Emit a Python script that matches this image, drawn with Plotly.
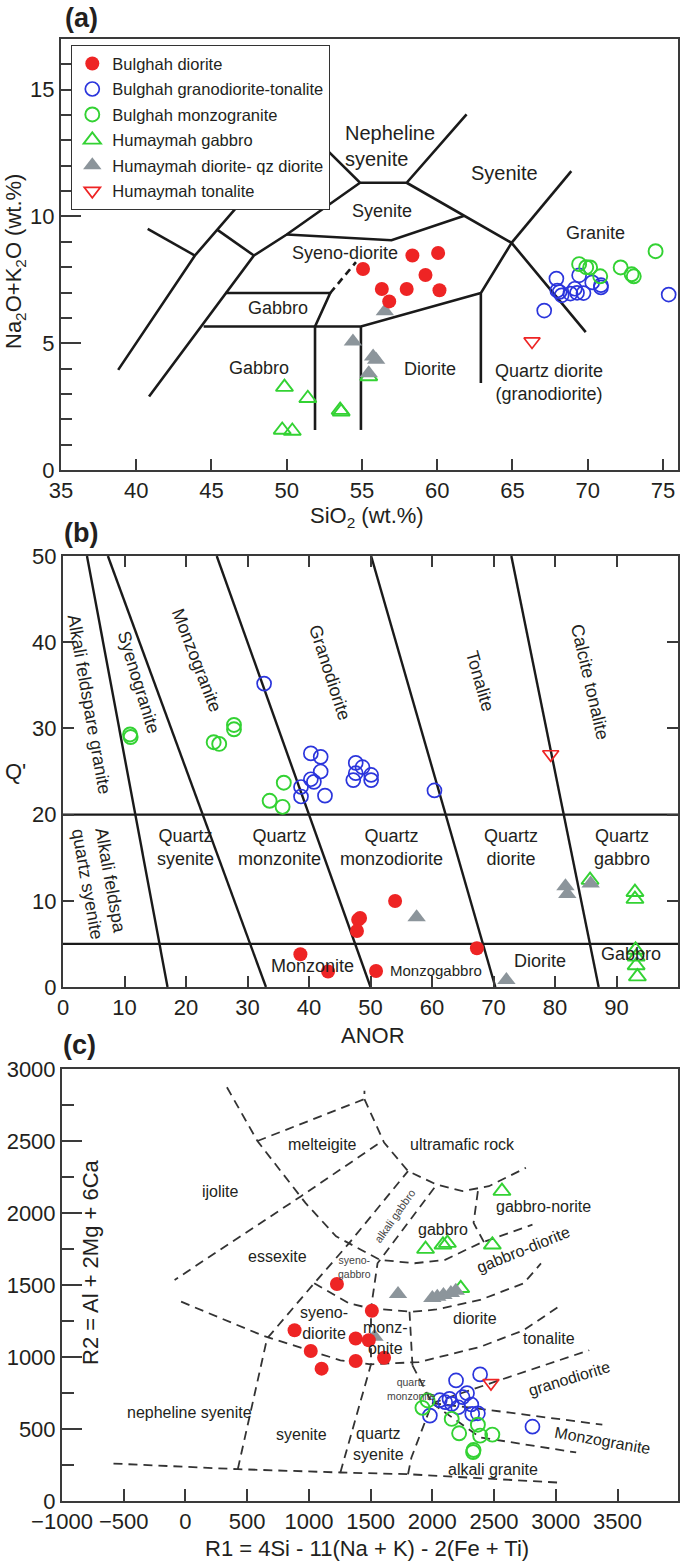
import plotly.graph_objects as go

W, H = 685, 1562
def fx(p): return p / W
def fy(p): return 1 - p / H

FONT = "Liberation Sans, Arial, sans-serif"
TXT = "#231f20"
RED = "#ee2424"
BLUE = "#2b35dc"
GREEN = "#33d233"
GRAY = "#8c959b"

# ---------------- panel (a): TAS ----------------
a_xticks = [35, 40, 45, 50, 55, 60, 65, 70, 75]
a_yticks = [0, 5, 10, 15]
a_bd_x = [55.07, 58.35, 60.06, 59.22, 56.32, 57.97, 60.15, 56.81]
a_bd_y = [7.93, 8.46, 8.56, 7.69, 7.14, 7.14, 7.09, 6.65]
a_bgt_x = [67.92, 69.43, 70.88, 68.13, 69.29, 75.38, 67.98, 68.27, 68.85, 69.72, 70.88, 67.11, 69.14, 70.3]
a_bgt_y = [7.55, 7.68, 7.29, 7.02, 6.99, 6.92, 7.08, 6.89, 6.96, 6.98, 7.2, 6.29, 7.15, 7.4]
a_bmg_x = [69.43, 69.9, 70.16, 70.83, 72.19, 72.92, 73.06, 74.51]
a_bmg_y = [8.12, 8.0, 7.99, 7.64, 7.99, 7.72, 7.64, 8.63]
a_hg_x = [49.85, 51.4, 53.62, 53.55, 49.7, 50.37, 55.45]
a_hg_y = [3.27, 2.83, 2.3, 2.36, 1.58, 1.54, 3.69]
a_hd_x = [56.52, 54.4, 55.94, 55.74, 55.45]
a_hd_y = [6.26, 5.07, 4.35, 4.48, 3.82]
a_ht_x = [66.3]
a_ht_y = [5.07]

a_lines = [
    ([38.8, 43.9, 47.6], [3.95, 8.46, 11.0]),
    ([40.76, 43.9], [9.51, 8.46]),
    ([40.85, 47.82, 50.0, 54.87], [2.9, 8.46, 9.29, 11.33]),
    ([45.35, 47.82], [9.49, 8.46]),
    ([51.0, 54.87, 57.97, 61.95], [13.6, 11.33, 11.33, 14.03]),
    ([57.97, 64.94, 69.87], [11.33, 8.96, 5.44]),
    ([64.94, 68.91], [8.96, 11.79]),
    ([64.94, 62.9, 62.9], [8.96, 6.98, 3.43]),
    ([62.9, 54.93, 44.48], [6.98, 5.66, 5.66]),
    ([45.93, 52.89, 51.88, 51.88], [6.98, 6.98, 5.66, 1.58]),
    ([54.93, 54.93], [5.66, 1.58]),
    ([50.0, 56.96, 61.8], [9.29, 9.06, 10.03]),
]
a_dash_line = ([52.89, 54.6], [6.98, 8.2])

# ---------------- panel (b): Q' - ANOR ----------------
b_xticks = [0, 10, 20, 30, 40, 50, 60, 70, 80, 90]
b_yticks = [0, 10, 20, 30, 40, 50]
b_bd_x = [54.0, 48.3, 48.0, 47.8, 67.3, 38.6, 43.1, 50.9]
b_bd_y = [9.97, 8.0, 7.8, 6.5, 4.5, 3.8, 1.8, 1.85]
b_bgt_x = [32.7, 40.3, 41.9, 41.9, 40.3, 38.7, 38.7, 40.8, 42.6, 47.6, 48.7, 50.1, 47.6, 47.2, 50.1, 60.4]
b_bgt_y = [35.2, 27.1, 26.7, 25.0, 24.1, 23.2, 22.1, 23.8, 22.2, 26.0, 25.5, 24.6, 24.8, 24.0, 24.0, 22.8]
b_bmg_x = [10.9, 11.0, 24.5, 25.4, 27.8, 27.8, 35.9, 33.6, 35.7]
b_bmg_y = [29.3, 29.0, 28.4, 28.2, 30.4, 29.9, 23.7, 21.6, 20.9]
b_hg_x = [85.7, 93.0, 93.0, 93.1, 93.2, 93.2, 93.4]
b_hg_y = [12.4, 11.0, 10.2, 4.3, 3.5, 2.5, 1.2]
b_hd_x = [57.5, 81.7, 82.0, 85.8, 72.1]
b_hd_y = [8.1, 11.7, 10.8, 12.0, 0.8]
b_ht_x = [79.3]
b_ht_y = [27.0]

b_lines = [
    ([3.9, 17.0], [50, 0]),
    ([7.3, 33.0], [50, 0]),
    ([25.0, 50.0], [50, 0]),
    ([50.1, 70.3], [50, 0]),
    ([72.9, 87.1], [50, 0]),
    ([0, 100], [20, 20]),
    ([0, 100], [5, 5]),
]

# ---------------- panel (c): R1 - R2 ----------------
c_xticks = [-1000, -500, 0, 500, 1000, 1500, 2000, 2500, 3000, 3500]
c_yticks = [0, 500, 1000, 1500, 2000, 2500, 3000]
c_bd_x = [1227, 1510, 884, 1379, 1485, 1015, 1103, 1379, 1609]
c_bd_y = [1507, 1321, 1186, 1128, 1116, 1042, 919, 972, 995]
c_bgt_x = [2387, 2192, 2281, 2245, 2104, 2157, 2210, 2316, 2323, 2369, 1980, 2811, 2139, 2060]
c_bgt_y = [879, 837, 749, 721, 686, 674, 651, 670, 605, 609, 593, 516, 709, 700]
c_bmg_x = [1962, 1920, 2157, 2217, 2369, 2387, 2486, 2334, 2330]
c_bmg_y = [698, 647, 570, 470, 530, 454, 461, 354, 340]
c_hg_x = [2564, 1945, 2086, 2122, 2486, 2230]
c_hg_y = [2152, 1749, 1779, 1791, 1779, 1477]
c_hd_x = [1722, 2000, 2040, 2090, 2150, 2190, 1531]
c_hd_y = [1437, 1410, 1418, 1430, 1445, 1460, 1140]
c_ht_x = [2475]
c_ht_y = [819]

c_lines = [
    ([336, 583, 972, 1220, 1574, 1856, 2104, 2387, 2811], [2873, 2500, 2070, 1838, 1675, 1651, 1675, 1791, 1919]),
    ([583, 1450, 1450], [2500, 2791, 2849]),
    ([1450, 1609, 1803, 2033, 2245, 2458, 2758], [2791, 2489, 2291, 2198, 2152, 2186, 2314]),
    ([1556, 937, -88], [2477, 2117, 1535]),
    ([424, 661, 1043, 1326, 1803], [221, 1128, 1512, 1791, 2291]),
    ([2016, 1556, 1503, 1503], [2175, 1651, 1337, 949]),
    ([2369, 2334, 2422], [2152, 1931, 1791]),
    ([1043, 1326, 1503, 1839, 2033, 2387, 2740, 2880], [1512, 1372, 1337, 1314, 1330, 1396, 1512, 1650]),
    ([-35, 619, 1255, 1503, 1892, 2387, 2740, 3023], [1384, 1151, 977, 949, 965, 1070, 1186, 1349]),
    ([1815, 1839], [1314, 942]),
    ([1255, 1503], [198, 949]),
    ([-583, 424, 1255, 1803, 3023], [260, 221, 198, 186, 128]),
    ([1803, 1830, 1998], [186, 300, 679]),
    ([1839, 1998], [942, 679]),
    ([1998, 2387, 3165], [679, 442, 337]),
    ([1998, 2387, 3377], [679, 640, 530]),
    ([1998, 2475, 3271], [679, 819, 1047]),
]

series_names = ["Bulghah diorite", "Bulghah granodiorite-tonalite", "Bulghah monzogranite",
                "Humaymah gabbro", "Humaymah diorite- qz diorite", "Humaymah tonalite"]

fig = go.Figure()

def add_lines(lines, xa, ya, color, width, dash=None):
    for xs, ys in lines:
        fig.add_trace(go.Scatter(x=xs, y=ys, mode="lines", xaxis=xa, yaxis=ya,
                                 line=dict(color=color, width=width, dash=dash),
                                 showlegend=False, hoverinfo="skip"))

add_lines(a_lines, "x", "y", "#1a1a1a", 2.6)
add_lines([a_dash_line], "x", "y", "#1a1a1a", 2.6, "7px,5px")
add_lines(b_lines, "x2", "y2", "#1a1a1a", 2.4)
add_lines(c_lines, "x3", "y3", "#333333", 1.8, "9px,6px")

styles = [
    dict(symbol="circle", color=RED, size=14, line=dict(width=0)),
    dict(symbol="circle-open", color=BLUE, size=14, line=dict(width=1.7, color=BLUE)),
    dict(symbol="circle-open", color=GREEN, size=14, line=dict(width=1.9, color=GREEN)),
    dict(symbol="triangle-up-open", color=GREEN, size=15, line=dict(width=1.9, color=GREEN)),
    dict(symbol="triangle-up", color=GRAY, size=16, line=dict(width=0)),
    dict(symbol="triangle-down-open", color=RED, size=14, line=dict(width=1.7, color=RED)),
]
ranks = [1, 2, 3, 4, 5, 6]
draw_order = [3, 4, 1, 2, 0, 5]

panels = [
    ("x", "y", [(a_bd_x, a_bd_y), (a_bgt_x, a_bgt_y), (a_bmg_x, a_bmg_y), (a_hg_x, a_hg_y), (a_hd_x, a_hd_y), (a_ht_x, a_ht_y)], True),
    ("x2", "y2", [(b_bd_x, b_bd_y), (b_bgt_x, b_bgt_y), (b_bmg_x, b_bmg_y), (b_hg_x, b_hg_y), (b_hd_x, b_hd_y), (b_ht_x, b_ht_y)], False),
    ("x3", "y3", [(c_bd_x, c_bd_y), (c_bgt_x, c_bgt_y), (c_bmg_x, c_bmg_y), (c_hg_x, c_hg_y), (c_hd_x, c_hd_y), (c_ht_x, c_ht_y)], False),
]
for xa, ya, data, leg in panels:
    for i in draw_order:
        xs, ys = data[i]
        fig.add_trace(go.Scatter(x=xs, y=ys, mode="markers", xaxis=xa, yaxis=ya,
                                 name=series_names[i], marker=styles[i],
                                 showlegend=leg, legendgroup="g%d" % i, legendrank=ranks[i],
                                 cliponaxis=False))

ann = []
def lab(x, y, t, ax, size, angle=0, xanchor="center", align="center", color=TXT):
    ann.append(dict(x=x, y=y, xref=ax[0], yref=ax[1], text=t, showarrow=False,
                    textangle=angle, xanchor=xanchor, align=align,
                    font=dict(family=FONT, size=size, color=color)))

A = ("x", "y"); B = ("x2", "y2"); C = ("x3", "y3")
# panel a labels
lab(53.76, 12.76, "Nepheline<br>syenite", A, 20, xanchor="left", align="left")
lab(64.5, 11.7, "Syenite", A, 20)
lab(56.32, 10.21, "Syenite", A, 18)
lab(53.85, 8.56, "Syeno-diorite", A, 18)
lab(70.54, 9.35, "Granite", A, 18)
lab(49.41, 6.39, "Gabbro", A, 18)
lab(48.19, 4.02, "Gabbro", A, 18)
lab(59.51, 3.98, "Diorite", A, 18)
lab(67.46, 3.47, "Quartz diorite<br>(granodiorite)", A, 18)
# panel b labels
lab(4.2, 32.8, "Alkali feldspare granite", B, 18, angle=80)
lab(12.3, 35.4, "Syenogranite", B, 18, angle=73)
lab(21.7, 37.9, "Monzogranite", B, 18, angle=69)
lab(43.3, 36.5, "Granodiorite", B, 18, angle=72)
lab(67.8, 35.5, "Tonalite", B, 18, angle=74)
lab(85.7, 35.4, "Calcite tonalite", B, 18, angle=77)
lab(5.8, 12.2, "Alkali feldspa<br>quartz syenite", B, 18, angle=80)
lab(19.9, 16.2, "Quartz<br>syenite", B, 18)
lab(35.2, 16.2, "Quartz<br>monzonite", B, 18)
lab(53.4, 16.2, "Quartz<br>monzodiorite", B, 18)
lab(72.8, 16.2, "Quartz<br>diorite", B, 18)
lab(90.9, 16.2, "Quartz<br>gabbro", B, 18)
lab(40.5, 2.4, "Monzonite", B, 18)
lab(60.7, 1.93, "Monzogabbro", B, 15)
lab(77.6, 3.0, "Diorite", B, 18)
lab(92.3, 3.8, "Gabbro", B, 18)
# panel c labels
lab(1114, 2477, "melteigite", C, 16)
lab(2245, 2477, "ultramafic rock", C, 16)
lab(283, 2152, "ijolite", C, 16)
lab(2900, 2047, "gabbro-norite", C, 16)
lab(2086, 1884, "gabbro", C, 16)
lab(1697, 1977, "alkali gabbro", C, 11, angle=-55, color="#444")
lab(743, 1698, "essexite", C, 16)
lab(1370, 1628, "syeno-<br>gabbro", C, 10.5, color="#444")
lab(2740, 1745, "gabbro-diorite", C, 16, angle=-22)
lab(1122, 1233, "syeno-<br>diorite", C, 16)
lab(1618, 1134, "monz-<br>onite", C, 16)
lab(2344, 1268, "diorite", C, 16)
lab(2945, 1128, "tonalite", C, 16)
lab(3112, 849, "granodiorite", C, 16, angle=-17)
lab(1830, 781, "quartz<br>monzonite", C, 10.5, color="#444")
lab(35, 616, "nepheline syenite", C, 16)
lab(937, 461, "syenite", C, 16)
lab(1565, 395, "quartz<br>syenite", C, 16)
lab(2493, 221, "alkali granite", C, 16)
lab(3377, 419, "Monzogranite", C, 16, angle=10)

def pann(px, py, t, size, angle=0, bold=False):
    ann.append(dict(x=fx(px), y=fy(py), xref="paper", yref="paper", text=("<b>%s</b>" % t) if bold else t,
                    showarrow=False, textangle=angle, xanchor="center", yanchor="middle",
                    font=dict(family=FONT, size=size, color=TXT)))

pann(81, 18, "(a)", 27, bold=True)
pann(81, 533, "(b)", 27, bold=True)
pann(79, 1045, "(c)", 27, bold=True)
pann(367, 517, "SiO<sub>2</sub> (wt.%)", 22)
pann(15, 262, "Na<sub>2</sub>O+K<sub>2</sub>O (wt.%)", 22, angle=-90)
pann(373, 1035, "ANOR", 22)
pann(16, 772, "Q'", 22)
pann(367, 1548, "R1 = 4Si - 11(Na + K) - 2(Fe + Ti)", 22)
pann(90, 1262, "R2 = Al + 2Mg + 6Ca", 22, angle=-90)

ax_common = dict(showgrid=False, zeroline=False, showline=True, linewidth=2, linecolor="#3a3a3a",
                 ticks="inside", tickwidth=2, tickcolor="#3a3a3a", automargin=False,
                 tickfont=dict(family=FONT, size=22, color=TXT))
X0, X1 = fx(61), fx(678)

fig.update_layout(
    width=W, height=H, margin=dict(l=0, r=0, t=0, b=0, pad=0, autoexpand=False),
    paper_bgcolor="white", plot_bgcolor="white",
    xaxis=dict(domain=[X0, X1], anchor="y", range=[35, 76], tickvals=a_xticks, ticklen=11, mirror=True, **ax_common),
    yaxis=dict(domain=[fy(470), fy(39)], anchor="x", range=[0, 17], tickvals=a_yticks, ticklen=20, mirror=True,
               minor=dict(dtick=1, ticks="inside", ticklen=11, tickwidth=2, tickcolor="#3a3a3a", showgrid=False), **ax_common),
    xaxis2=dict(domain=[fx(63), X1], anchor="y2", range=[0, 100], tickvals=b_xticks, ticklen=11, mirror="ticks", **ax_common),
    yaxis2=dict(domain=[fy(987), fy(556)], anchor="x2", range=[0, 50], tickvals=b_yticks, ticklen=11, mirror="ticks", **ax_common),
    xaxis3=dict(domain=[fx(62), X1], anchor="y3", range=[-1000, 3990], tickvals=c_xticks, ticklen=12, mirror=True, **ax_common),
    yaxis3=dict(domain=[fy(1501), fy(1069)], anchor="x3", range=[0, 3000], tickvals=c_yticks, ticklen=20, mirror=True,
                minor=dict(dtick=250, ticks="inside", ticklen=12, tickwidth=2, tickcolor="#3a3a3a", showgrid=False), **ax_common),
    legend=dict(x=fx(71), y=fy(45), xanchor="left", yanchor="top", bgcolor="white",
                bordercolor="#333", borderwidth=1.3, font=dict(family=FONT, size=16.5, color=TXT),
                tracegroupgap=1, itemwidth=30),
    annotations=ann,
    showlegend=True,
)

fig.write_html("out.html", config={"displayModeBar": False},
               post_script="document.body.style.margin='0px';")
